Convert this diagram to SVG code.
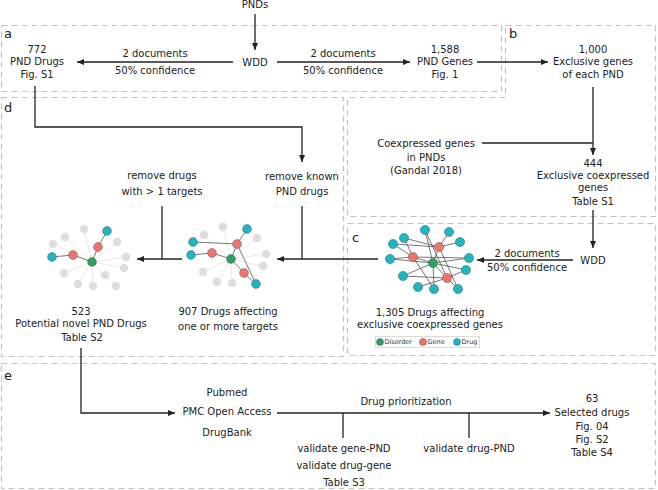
<svg xmlns="http://www.w3.org/2000/svg" width="658" height="490" viewBox="0 0 658 490">
<style>
.t{font-family:"DejaVu Sans","Liberation Sans",sans-serif;font-size:10px;fill:#222;text-anchor:middle}
.lab{font-family:"DejaVu Sans","Liberation Sans",sans-serif;font-size:13px;fill:#222}
.box{fill:none;stroke:#c4c4c4;stroke-width:1.2;stroke-dasharray:6 4}
.c{fill:none;stroke:#222;stroke-width:1.3}
.a{marker-end:url(#ah)}
.e{stroke:#555;stroke-width:0.8}
.eg{stroke:#e2e2e2;stroke-width:0.8}
.dis{fill:#2aa35e;stroke:#555;stroke-width:0.5}
.gen{fill:#f2736b;stroke:#555;stroke-width:0.5}
.drg{fill:#1ab8c4;stroke:#555;stroke-width:0.5}
.gry{fill:#dedede}
.lg{font-family:"DejaVu Sans","Liberation Sans",sans-serif;font-size:6.5px;fill:#333}
</style>
<defs>
<marker id="ah" markerUnits="userSpaceOnUse" markerWidth="8" markerHeight="6" refX="7" refY="3" orient="auto">
<path d="M0,0 L7,3 L0,6 z" fill="#222"/>
</marker>
</defs>
<rect width="658" height="490" fill="#fff"/>

<g id="boxes">
<rect id="box-a" class="box" x="1.5" y="25.5" width="500" height="66"/>
<path id="box-b" class="box" d="M505.5,25.5 H655.5 V216.5 H347.5 V97.5 H505.5 Z"/>
<rect id="box-c" class="box" x="347.5" y="223.5" width="308" height="132"/>
<rect id="box-d" class="box" x="1.5" y="97.5" width="342" height="259"/>
<rect id="box-e" class="box" x="1.5" y="363.5" width="654" height="125"/>
<text class="lab" x="4" y="38">a</text>
<text class="lab" x="509" y="38">b</text>
<text class="lab" x="352" y="242">c</text>
<text class="lab" x="4" y="112">d</text>
<text class="lab" x="4" y="380">e</text>
</g>

<g id="connectors">
<path class="c a" d="M255,14 V50"/>
<path class="c a" d="M233,62 H77"/>
<path class="c a" d="M277,62 H410"/>
<path class="c a" d="M477,62 H548"/>
<path class="c a" d="M35,86 V127 H302 V162"/>
<path class="c a" d="M593,87 V155"/>
<path class="c" d="M482,143 H593"/>
<path class="c a" d="M593,210 V248"/>
<path class="c a" d="M573,260 H477"/>
<path class="c a" d="M378,259 H277"/>
<path class="c" d="M302,206 V259"/>
<path class="c a" d="M182,259 H137"/>
<path class="c" d="M162,206 V259"/>
<path class="c a" d="M81,348 V413 H175"/>
<path class="c a" d="M277,413 H550"/>
<path class="c" d="M343,413 V438"/>
<path class="c" d="M469,413 V438"/>
<text class="t" x="155" y="56.5">2 documents</text>
<text class="t" x="155" y="73.5">50% confidence</text>
<text class="t" x="343" y="56.5">2 documents</text>
<text class="t" x="343" y="73.5">50% confidence</text>
<text class="t" x="527" y="256.5">2 documents</text>
<text class="t" x="527" y="270.5">50% confidence</text>
<text class="t" x="302" y="179.5">remove known</text>
<text class="t" x="302" y="194.5">PND drugs</text>
<text class="t" x="162" y="178.5">remove drugs</text>
<text class="t" x="162" y="194.5">with &gt; 1 targets</text>
<text class="t" x="406" y="404.5">Drug prioritization</text>
<text class="t" x="344" y="451.5">validate gene-PND</text>
<text class="t" x="344" y="468.5">validate drug-gene</text>
<text class="t" x="344" y="486">Table S3</text>
<text class="t" x="469" y="451.5">validate drug-PND</text>
</g>

<g id="pnds"><text class="t" x="255" y="8">PNDs</text></g>
<g id="wdd-a"><text class="t" x="255" y="65.5">WDD</text></g>
<g id="pnd-drugs">
<text class="t" x="37" y="52.5">772</text>
<text class="t" x="37" y="65">PND Drugs</text>
<text class="t" x="37" y="77.5">Fig. S1</text>
</g>
<g id="pnd-genes">
<text class="t" x="445" y="52.5">1,588</text>
<text class="t" x="445" y="65">PND Genes</text>
<text class="t" x="445" y="77.5">Fig. 1</text>
</g>
<g id="exclusive-genes">
<text class="t" x="593" y="52.5">1,000</text>
<text class="t" x="593" y="65">Exclusive genes</text>
<text class="t" x="593" y="77.5">of each PND</text>
</g>
<g id="coexpressed">
<text class="t" x="426" y="146.5">Coexpressed genes</text>
<text class="t" x="426" y="160.5">in PNDs</text>
<text class="t" x="426" y="173.5">(Gandal 2018)</text>
</g>
<g id="exclusive-coexpressed">
<text class="t" x="593" y="166.5">444</text>
<text class="t" x="593" y="178.5">Exclusive coexpressed</text>
<text class="t" x="593" y="190.5">genes</text>
<text class="t" x="593" y="204.5">Table S1</text>
</g>
<g id="wdd-c"><text class="t" x="593" y="263.5">WDD</text></g>

<g id="network-c">
<g>
<line class="e" x1="433" y1="263" x2="439" y2="247"/>
<line class="e" x1="433" y1="263" x2="413" y2="257"/>
<line class="e" x1="433" y1="263" x2="447" y2="278"/>
<line class="e" x1="433" y1="263" x2="425" y2="230"/>
<line class="e" x1="433" y1="263" x2="469" y2="258"/>
<line class="e" x1="433" y1="263" x2="466" y2="270"/>
<line class="e" x1="433" y1="263" x2="403" y2="276"/>
<line class="e" x1="433" y1="263" x2="434" y2="289"/>
<line class="e" x1="433" y1="263" x2="390" y2="259"/>
<line class="e" x1="439" y1="247" x2="449" y2="232"/>
<line class="e" x1="439" y1="247" x2="460" y2="242"/>
<line class="e" x1="439" y1="247" x2="404" y2="238"/>
<line class="e" x1="439" y1="247" x2="458" y2="289"/>
<line class="e" x1="439" y1="247" x2="393" y2="244"/>
<line class="e" x1="413" y1="257" x2="393" y2="244"/>
<line class="e" x1="413" y1="257" x2="390" y2="259"/>
<line class="e" x1="413" y1="257" x2="404" y2="238"/>
<line class="e" x1="413" y1="257" x2="469" y2="258"/>
<line class="e" x1="413" y1="257" x2="434" y2="289"/>
<line class="e" x1="447" y1="278" x2="418" y2="287"/>
<line class="e" x1="447" y1="278" x2="466" y2="270"/>
<line class="e" x1="447" y1="278" x2="425" y2="230"/>
<line class="e" x1="447" y1="278" x2="458" y2="289"/>
<line class="e" x1="447" y1="278" x2="403" y2="276"/>
</g>
<circle class="drg" cx="425" cy="230" r="4.6"/>
<circle class="drg" cx="449" cy="232" r="4.6"/>
<circle class="drg" cx="404" cy="238" r="4.6"/>
<circle class="drg" cx="460" cy="242" r="4.6"/>
<circle class="drg" cx="393" cy="244" r="4.6"/>
<circle class="drg" cx="469" cy="258" r="4.6"/>
<circle class="drg" cx="390" cy="259" r="4.6"/>
<circle class="drg" cx="466" cy="270" r="4.6"/>
<circle class="drg" cx="403" cy="276" r="4.6"/>
<circle class="drg" cx="418" cy="287" r="4.6"/>
<circle class="drg" cx="434" cy="289" r="4.6"/>
<circle class="drg" cx="458" cy="289" r="4.6"/>
<circle class="gen" cx="439" cy="247" r="4.6"/>
<circle class="gen" cx="413" cy="257" r="4.6"/>
<circle class="gen" cx="447" cy="278" r="4.6"/>
<circle class="dis" cx="433" cy="263" r="4.6"/>
<text class="t" x="430" y="315.5">1,305 Drugs affecting</text>
<text class="t" x="430" y="327.5">exclusive coexpressed genes</text>
</g>

<g id="legend">
<rect x="375.5" y="336.5" width="104" height="11" fill="#fff" stroke="#888" stroke-width="0.6" stroke-dasharray="1 1"/>
<circle class="dis" cx="380" cy="342" r="3.5"/>
<text class="lg" x="384.5" y="344.3">Disorder</text>
<circle class="gen" cx="423" cy="342" r="3.5"/>
<text class="lg" x="427.5" y="344.3">Gene</text>
<circle class="drg" cx="457" cy="342" r="3.5"/>
<text class="lg" x="461.5" y="344.3">Drug</text>
</g>

<g id="network-d2">
<g>
<line class="eg" x1="231" y1="259" x2="223" y2="227"/>
<line class="eg" x1="231" y1="259" x2="204" y2="235"/>
<line class="eg" x1="231" y1="259" x2="257" y2="238"/>
<line class="eg" x1="231" y1="259" x2="266" y2="254"/>
<line class="eg" x1="231" y1="259" x2="263" y2="266"/>
<line class="eg" x1="231" y1="259" x2="203" y2="272"/>
<line class="eg" x1="231" y1="259" x2="217" y2="282"/>
<line class="eg" x1="231" y1="259" x2="232" y2="283"/>
<line class="e" x1="193" y1="242" x2="237" y2="244"/>
<line class="e" x1="191" y1="255" x2="212" y2="253"/>
<line class="e" x1="212" y1="253" x2="231" y2="259"/>
<line class="e" x1="231" y1="259" x2="237" y2="244"/>
<line class="e" x1="237" y1="244" x2="247" y2="229"/>
<line class="e" x1="231" y1="259" x2="244" y2="273"/>
<line class="e" x1="244" y1="273" x2="256" y2="284"/>
<line class="e" x1="237" y1="244" x2="256" y2="284"/>
</g>
<circle class="gry" cx="223" cy="227" r="4.2"/>
<circle class="gry" cx="204" cy="235" r="4.2"/>
<circle class="gry" cx="257" cy="238" r="4.2"/>
<circle class="gry" cx="266" cy="254" r="4.2"/>
<circle class="gry" cx="263" cy="266" r="4.2"/>
<circle class="gry" cx="203" cy="272" r="4.2"/>
<circle class="gry" cx="217" cy="282" r="4.2"/>
<circle class="gry" cx="232" cy="283" r="4.2"/>
<circle class="drg" cx="247" cy="229" r="4.4"/>
<circle class="drg" cx="193" cy="242" r="4.4"/>
<circle class="drg" cx="191" cy="255" r="4.4"/>
<circle class="drg" cx="256" cy="284" r="4.4"/>
<circle class="gen" cx="237" cy="244" r="4.4"/>
<circle class="gen" cx="212" cy="253" r="4.4"/>
<circle class="gen" cx="244" cy="273" r="4.4"/>
<circle class="dis" cx="231" cy="259" r="4.4"/>
<text class="t" x="228" y="314.5">907 Drugs affecting</text>
<text class="t" x="228" y="329.5">one or more targets</text>
</g>

<g id="network-d1">
<g>
<line class="eg" x1="92" y1="262" x2="84" y2="229"/>
<line class="eg" x1="92" y1="262" x2="65" y2="237"/>
<line class="eg" x1="92" y1="262" x2="53" y2="244"/>
<line class="eg" x1="92" y1="262" x2="117" y2="242"/>
<line class="eg" x1="92" y1="262" x2="126" y2="257"/>
<line class="eg" x1="92" y1="262" x2="124" y2="268"/>
<line class="eg" x1="92" y1="262" x2="105" y2="275"/>
<line class="eg" x1="92" y1="262" x2="64" y2="273"/>
<line class="eg" x1="92" y1="262" x2="78" y2="284"/>
<line class="eg" x1="92" y1="262" x2="93" y2="286"/>
<line class="eg" x1="92" y1="262" x2="116" y2="286"/>
<line class="e" x1="52" y1="257" x2="73" y2="255"/>
<line class="e" x1="73" y1="255" x2="92" y2="262"/>
<line class="e" x1="92" y1="262" x2="98" y2="247"/>
<line class="e" x1="98" y1="247" x2="107" y2="231"/>
</g>
<circle class="gry" cx="84" cy="229" r="4.2"/>
<circle class="gry" cx="65" cy="237" r="4.2"/>
<circle class="gry" cx="53" cy="244" r="4.2"/>
<circle class="gry" cx="117" cy="242" r="4.2"/>
<circle class="gry" cx="126" cy="257" r="4.2"/>
<circle class="gry" cx="124" cy="268" r="4.2"/>
<circle class="gry" cx="105" cy="275" r="4.2"/>
<circle class="gry" cx="64" cy="273" r="4.2"/>
<circle class="gry" cx="78" cy="284" r="4.2"/>
<circle class="gry" cx="93" cy="286" r="4.2"/>
<circle class="gry" cx="116" cy="286" r="4.2"/>
<circle class="drg" cx="107" cy="231" r="4.4"/>
<circle class="drg" cx="52" cy="257" r="4.4"/>
<circle class="gen" cx="98" cy="247" r="4.4"/>
<circle class="gen" cx="73" cy="255" r="4.4"/>
<circle class="dis" cx="92" cy="262" r="4.4"/>
<text class="t" x="81" y="314.5">523</text>
<text class="t" x="81" y="326.5">Potential novel PND Drugs</text>
<text class="t" x="82" y="340.5">Table S2</text>
</g>

<g id="sources">
<text class="t" x="227" y="395.5">Pubmed</text>
<text class="t" x="227" y="414.5">PMC Open Access</text>
<text class="t" x="227" y="435.5">DrugBank</text>
</g>
<g id="selected-drugs">
<text class="t" x="592" y="401.5">63</text>
<text class="t" x="592" y="415.5">Selected drugs</text>
<text class="t" x="592" y="429.5">Fig. 04</text>
<text class="t" x="592" y="442.5">Fig. S2</text>
<text class="t" x="592" y="455.5">Table S4</text>
</g>
</svg>
